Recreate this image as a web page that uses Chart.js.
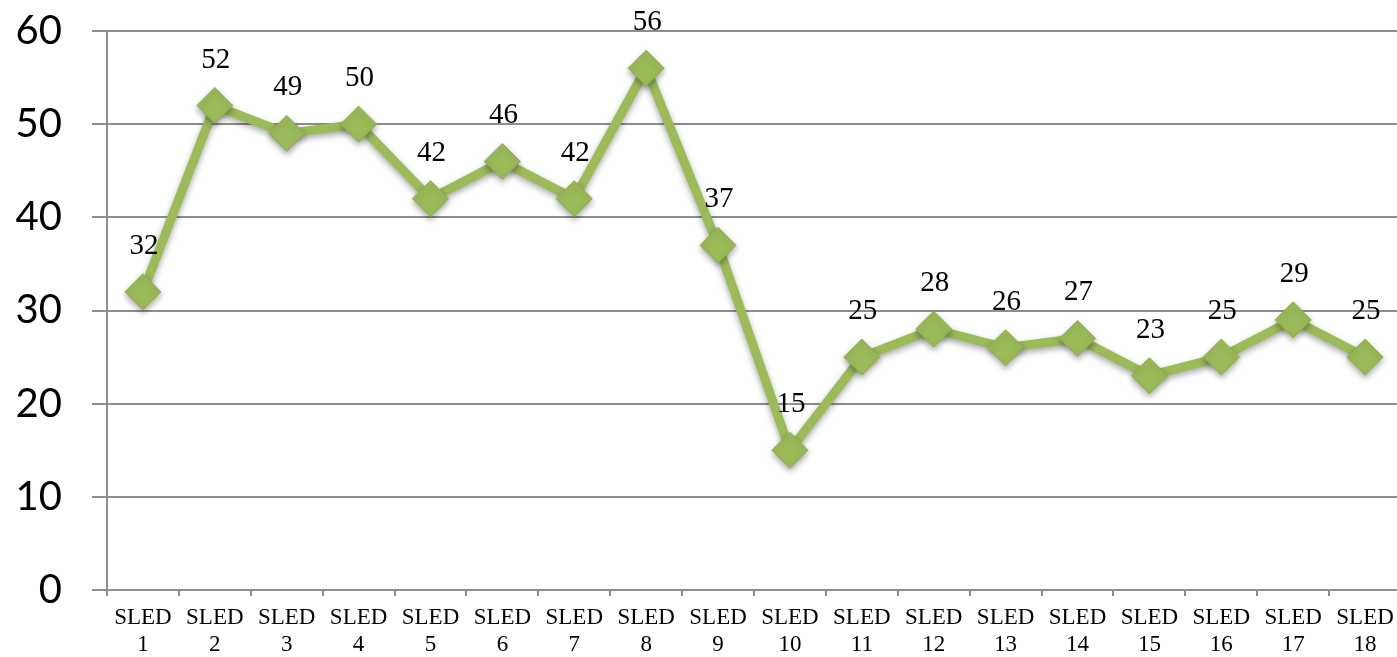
<!DOCTYPE html>
<html>
<head>
<meta charset="utf-8">
<script src="https://cdn.jsdelivr.net/npm/chart.js@4/dist/chart.umd.min.js"></script>
<style>
    html, body { margin: 0; padding: 0; background: #ffffff; overflow: hidden; }
</style>
</head>
<body>
<canvas id="chart" width="1401" height="657"></canvas>
<script>
let categories = ['SLED 1', 'SLED 2', 'SLED 3', 'SLED 4', 'SLED 5', 'SLED 6', 'SLED 7', 'SLED 8', 'SLED 9',
    'SLED 10', 'SLED 11', 'SLED 12', 'SLED 13', 'SLED 14', 'SLED 15', 'SLED 16', 'SLED 17', 'SLED 18'];
let values = [32, 52, 49, 50, 42, 46, 42, 56, 37, 15, 25, 28, 26, 27, 23, 25, 29, 25];
let yTicks = [0, 10, 20, 30, 40, 50, 60];

let gridColor = '#8e8e8e';
let green = '#9bbb59';

function splitLabel(label) {
    /*
        "SLED 1" wird auf zwei Zeilen verteilt.
     */
    return label.split(' ');
}

let valueLabels = {
    id: 'valueLabels',
    afterDatasetsDraw(chart) {
        /*
            Schreibt den Wert über jeden Punkt.
         */
        let ctx = chart.ctx;
        let meta = chart.getDatasetMeta(0);
        ctx.save();
        ctx.font = '29px "Liberation Serif", serif';
        ctx.fillStyle = '#000000';
        ctx.textAlign = 'center';
        ctx.textBaseline = 'alphabetic';
        for (let i = 0; i < meta.data.length; i++) {
            let point = meta.data[i];
            ctx.fillText(String(values[i]), point.x + 1, point.y - 38);
        }
        ctx.restore();
    }
};

let markerShadow = {
    id: 'markerShadow',
    beforeDatasetDraw(chart) {
        let ctx = chart.ctx;
        ctx.save();
        ctx.shadowColor = 'rgba(0, 0, 0, 0.35)';
        ctx.shadowBlur = 6;
        ctx.shadowOffsetY = 3;
    },
    afterDatasetDraw(chart) {
        chart.ctx.restore();
    }
};

let ctx = document.getElementById('chart').getContext('2d');

let chart = new Chart(ctx, {
    type: 'line',
    data: {
        labels: categories.map(splitLabel),
        datasets: [{
            data: values,
            borderColor: green,
            borderWidth: 9,
            backgroundColor: green,
            pointStyle: 'rectRot',
            pointRadius: 18,
            pointBorderColor: '#8fae50',
            pointBorderWidth: 1,
            pointBackgroundColor: green,
            tension: 0,
            clip: false
        }]
    },
    options: {
        responsive: false,
        animation: false,
        events: [],
        layout: {autoPadding: false, padding: {top: 31, right: 0, left: 0, bottom: 0}},
        plugins: {
            legend: {display: false},
            tooltip: {enabled: false}
        },
        scales: {
            x: {
                offset: true,
                grid: {
                    offset: true,
                    drawOnChartArea: false,
                    drawTicks: true,
                    tickLength: 6,
                    color: gridColor,
                    lineWidth: 2
                },
                border: {display: true, color: gridColor, width: 2},
                ticks: {
                    color: '#000000',
                    padding: 9,
                    maxRotation: 0,
                    autoSkip: false,
                    font: {family: '"Liberation Serif", serif', size: 23, lineHeight: 1.15}
                },
                afterFit(scale) {
                    // keine Extra-Abstände für die äussersten Beschriftungen
                    scale.height = 67;
                    scale.paddingLeft = 0;
                    scale.paddingRight = 0;
                }
            },
            y: {
                min: 0,
                max: 60,
                afterBuildTicks(scale) {
                    scale.ticks = yTicks.map(function (v) { return {value: v}; });
                },
                grid: {
                    color: gridColor,
                    lineWidth: 2,
                    drawTicks: true,
                    tickLength: 15
                },
                border: {display: true, color: gridColor, width: 2},
                ticks: {
                    color: '#000000',
                    padding: 30,
                    font: {family: 'Lato, sans-serif', size: 40}
                },
                afterFit(scale) {
                    scale.width = 107;
                    scale.paddingTop = 0;
                    scale.paddingBottom = 0;
                }
            }
        }
    },
    plugins: [markerShadow, valueLabels]
});
</script>
</body>
</html>
